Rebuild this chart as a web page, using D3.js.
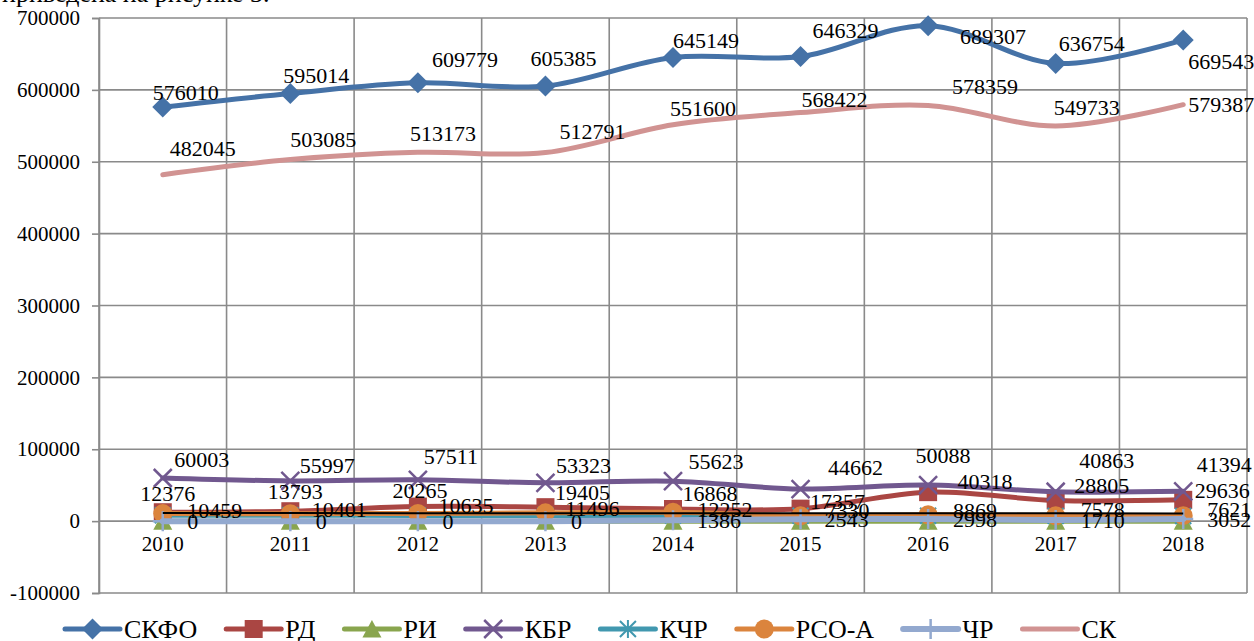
<!DOCTYPE html>
<html>
<head>
<meta charset="utf-8">
<script src="https://cdn.jsdelivr.net/npm/d3@7"></script>
<style>
  html, body { margin: 0; padding: 0; background: #fff; }
  svg { display: block; font-family: "Liberation Serif", "Times New Roman", serif; }
</style>
</head>
<body>
<svg id="chart" width="1254" height="641"></svg>
<script>
// ---- data ----
const years = ["2010", "2011", "2012", "2013", "2014", "2015", "2016", "2017", "2018"];
const yTicks = [-100000, 0, 100000, 200000, 300000, 400000, 500000, 600000, 700000];
const seriesNames = ["СКФО", "РД", "РИ", "КБР", "КЧР", "РСО-А", "ЧР", "СК"];

const skfo = [576010, 595014, 609779, 605385, 645149, 646329, 689307, 636754, 669543];
const rd   = [12376, 13793, 20265, 19405, 16868, 17357, 40318, 28805, 29636];
const ri   = [0, 0, 0, 0, 0, 0, 0, 0, 0];
const kbr  = [60003, 55997, 57511, 53323, 55623, 44662, 50088, 40863, 41394];
const kchr = [8200, 8100, 8000, 7800, 7700, 7500, 7400, 7300, 7200];
const rsoa = [10459, 10401, 10635, 11496, 12252, 7330, 8869, 7578, 7621];
const chr  = [0, 0, 0, 0, 1386, 2543, 2998, 1710, 3052];
const sk   = [482045, 503085, 513173, 512791, 551600, 568422, 578359, 549733, 579387];
// thin black series without a legend entry
const extra = [11300, 11200, 11100, 11000, 11000, 10900, 10900, 10800, 10700];

const seriesValues = [skfo, rd, ri, kbr, kchr, rsoa, chr, sk];

// ---- styles / layout ----
const styles = {
  "СКФО":  { color: "#4572A7", marker: "diamond", width: 5, labels: true },
  "РД":    { color: "#AA4643", marker: "square",  width: 5, labels: true },
  "РИ":    { color: "#89A54E", marker: "triangle",width: 5, labels: false },
  "КБР":   { color: "#71588F", marker: "x",       width: 5, labels: true },
  "КЧР":   { color: "#4198AF", marker: "star",    width: 5, labels: false },
  "РСО-А": { color: "#DB843D", marker: "circle",  width: 5, labels: true },
  "ЧР":    { color: "#93A9CF", marker: "plus",    width: 6, labels: true },
  "СК":    { color: "#D19392", marker: null,      width: 5, labels: true }
};

// label centre offsets from their points, [dx, dy]
const labelNudge = {
  "СКФО":  [[23,-15],[26,-18],[47,-24],[18,-28],[33,-17],[45,-26],[65,11],[36,-20],[38,21]],
  "СК":    [[40,-26],[33,-20],[25,-19],[47,-21],[30,-16],[34,-13],[57,-19],[31,-19],[38,0]],
  "КБР":   [[39,-19],[37,-16],[33,-23],[38,-17],[43,-20],[55,-22],[15,-30],[51,-31],[41,-27]],
  "РД":    [[5,-19],[5,-20],[2,-16],[37,-15],[37,-16],[37,-7],[57,-11],[46,-15],[39,-10]],
  "РСО-А": [[52,-3],[49,-4],[48,-8],[47,-5],[52,-3],[47,-6],[47,-4],[47,-6],[46,-6]],
  "ЧР":    [[30,0],[31,0],[30,0],[31,0],[46,0],[46,0],[47,0],[47,0],[46,0]]
};

const W = 1254, H = 641;
const plot = { left: 99, right: 1247, top: 18, bottom: 593 };
const gridColor = "#8a8a8a";

const svg = d3.select("#chart");

// clipped line of running text above the chart
svg.append("text")
  .attr("x", 2).attr("y", 1.5)
  .attr("font-size", 26)
  .text("приведена на рисунке 3.");

const x = d3.scaleBand().domain(years).range([plot.left, plot.right]).padding(0);
const y = d3.scaleLinear().domain([-100000, 700000]).range([plot.bottom, plot.top]);
const cx = d => x(d) + x.bandwidth() / 2;

// horizontal gridlines
svg.append("g").selectAll("line").data(yTicks).join("line")
  .attr("x1", plot.left).attr("x2", plot.right)
  .attr("y1", d => y(d)).attr("y2", d => y(d))
  .attr("stroke", gridColor).attr("stroke-width", 1.6);

// vertical gridlines on category boundaries
const bounds = years.map(d => x(d)).concat([plot.right]);
svg.append("g").selectAll("line").data(bounds).join("line")
  .attr("x1", d => d).attr("x2", d => d)
  .attr("y1", plot.top).attr("y2", plot.bottom)
  .attr("stroke", gridColor).attr("stroke-width", 1.6);

// value axis
const yAxis = d3.axisLeft(y).tickValues(yTicks).tickSize(7).tickPadding(12)
  .tickFormat(d => String(d));
const yg = svg.append("g").attr("transform", `translate(${plot.left},0)`).call(yAxis);
yg.select(".domain").attr("stroke", gridColor).attr("stroke-width", 1.6);
yg.selectAll(".tick line").attr("stroke", gridColor).attr("stroke-width", 1.6);
yg.selectAll("text").attr("font-size", 21).attr("fill", "#000")
  .attr("font-family", "Liberation Serif, Times New Roman, serif");

// category labels under the zero line
const xAxis = d3.axisBottom(x).tickSize(0).tickPadding(15);
const xg = svg.append("g").attr("transform", `translate(0,${y(0)})`).call(xAxis);
xg.select(".domain").remove();
xg.selectAll("text").attr("font-size", 21).attr("fill", "#000")
  .attr("font-family", "Liberation Serif, Times New Roman, serif");

// marker drawing
function marker(g, shape, color, px, py) {
  switch (shape) {
    case "diamond":
      g.append("path").attr("d", `M${px},${py-10.5}L${px+10.5},${py}L${px},${py+10.5}L${px-10.5},${py}Z`)
        .attr("fill", color); break;
    case "square":
      g.append("rect").attr("x", px-9).attr("y", py-9).attr("width", 18).attr("height", 18)
        .attr("fill", color); break;
    case "triangle":
      g.append("path").attr("d", `M${px},${py-9}L${px+9.5},${py+8.5}L${px-9.5},${py+8.5}Z`)
        .attr("fill", color); break;
    case "circle":
      g.append("circle").attr("cx", px).attr("cy", py).attr("r", 9.5).attr("fill", color); break;
    case "x":
      g.append("path").attr("d", `M${px-9},${py-9}L${px+9},${py+9}M${px+9},${py-9}L${px-9},${py+9}`)
        .attr("stroke", color).attr("stroke-width", 2.5).attr("fill", "none"); break;
    case "star":
      g.append("path").attr("d", `M${px-8},${py-8}L${px+8},${py+8}M${px+8},${py-8}L${px-8},${py+8}M${px},${py-9}L${px},${py+9}`)
        .attr("stroke", color).attr("stroke-width", 2).attr("fill", "none"); break;
    case "plus":
      g.append("path").attr("d", `M${px},${py-10}L${px},${py+10}M${px-10},${py}L${px+10},${py}`)
        .attr("stroke", color).attr("stroke-width", 2.5).attr("fill", "none"); break;
  }
}

const lineGen = d3.line()
  .x((d, i) => cx(years[i]))
  .y(d => y(d))
  .curve(d3.curveCatmullRom.alpha(0));

const seriesLayer = svg.append("g");
seriesNames.forEach((name, si) => {
  const st = styles[name];
  const vals = seriesValues[si];
  const g = seriesLayer.append("g");
  g.append("path").datum(vals).attr("d", lineGen)
    .attr("fill", "none").attr("stroke", st.color).attr("stroke-width", st.width)
    .attr("stroke-linecap", "round").attr("stroke-linejoin", "round");
  if (st.marker) vals.forEach((v, i) => marker(g, st.marker, st.color, cx(years[i]), y(v)));
});

// black series on top
seriesLayer.append("path").datum(extra).attr("d", d3.line()
    .x((d, i) => cx(years[i])).y(d => y(d)))
  .attr("fill", "none").attr("stroke", "#000").attr("stroke-width", 2);

// data labels
const labelLayer = svg.append("g").attr("font-size", 22).attr("fill", "#000");
seriesNames.forEach((name, si) => {
  const st = styles[name];
  if (!st.labels) return;
  const vals = seriesValues[si];
  vals.forEach((v, i) => {
    const [dx, dy] = labelNudge[name][i];
    labelLayer.append("text")
      .attr("x", cx(years[i]) + dx).attr("y", y(v) + dy)
      .attr("text-anchor", "middle").attr("dy", "0.35em")
      .text(String(v));
  });
});

// legend
const legend = svg.append("g").attr("transform", "translate(0,629)");
let lx = 65;
seriesNames.forEach(name => {
  const st = styles[name];
  const item = legend.append("g");
  item.append("line").attr("x1", lx).attr("x2", lx + 55).attr("y1", 0).attr("y2", 0)
    .attr("stroke", st.color).attr("stroke-width", st.width).attr("stroke-linecap", "round");
  if (st.marker) marker(item, st.marker, st.color, lx + 27.5, 0);
  const t = item.append("text").attr("x", lx + 59).attr("y", 0).attr("dy", "0.35em")
    .attr("font-size", 26).attr("fill", "#000").text(name);
  lx += 59 + t.node().getComputedTextLength() + 29;
});
</script>
</body>
</html>
